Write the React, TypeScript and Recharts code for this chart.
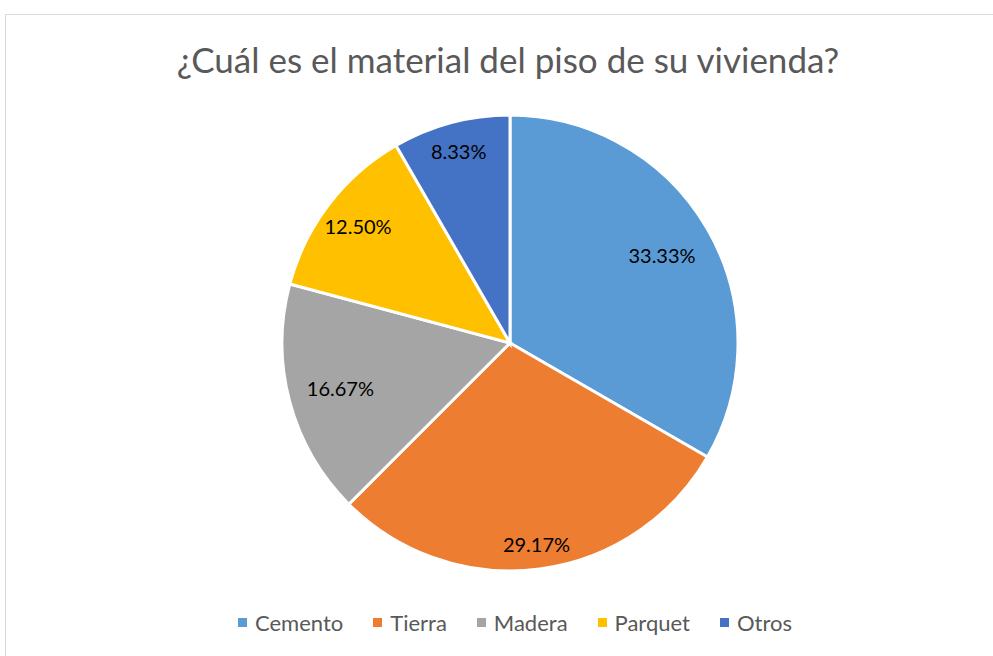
import { PieChart, Pie, Cell, Legend } from "recharts";

const categories = ["Cemento", "Tierra", "Madera", "Parquet", "Otros"];
const counts = [8, 7, 4, 3, 2];
const colors = ["#5b9bd5", "#ed7d31", "#a5a5a5", "#ffc000", "#4472c4"];

const data = categories.map((name, i) => ({ name, value: counts[i] }));
const total = counts.reduce((a, b) => a + b, 0);

// label distance from centre, as a share of the radius (Excel "best fit")
const labelRadius = [0.77, 0.89, 0.77, 0.84, 0.87];

const FONT = "Lato, 'Open Sans', sans-serif";
const RAD = Math.PI / 180;

// eslint-disable-next-line @typescript-eslint/no-explicit-any
function SliceLabel(props: any) {
  const { cx, cy, midAngle, outerRadius, value, index } = props;
  const r = outerRadius * labelRadius[index];
  const x = cx + r * Math.cos(-midAngle * RAD);
  const y = cy + r * Math.sin(-midAngle * RAD);
  return (
    <text
      x={x}
      y={y}
      textAnchor="middle"
      dominantBaseline="central"
      fontSize={20}
      fontFamily={FONT}
      fill="#000"
    >
      {((value / total) * 100).toFixed(2)}%
    </text>
  );
}

function LegendRow() {
  return (
    <div
      style={{
        display: "flex",
        justifyContent: "center",
        gap: 30,
        fontFamily: FONT,
        fontSize: 22,
        color: "#595959",
      }}
    >
      {categories.map((c, i) => (
        <div key={c} style={{ display: "flex", alignItems: "center" }}>
          <span
            style={{
              width: 9,
              height: 9,
              background: colors[i],
              display: "inline-block",
              marginRight: 8,
            }}
          />
          {c}
        </div>
      ))}
    </div>
  );
}

export default function App() {
  return (
    <div
      style={{
        position: "fixed",
        left: 0,
        top: 0,
        width: 993,
        height: 656,
        background: "#fff",
        overflow: "hidden",
      }}
    >
      <div
        style={{
          position: "absolute",
          left: 5,
          top: 14,
          width: 1010,
          height: 700,
          border: "1px solid #d9d9d9",
        }}
      />
      <div
        style={{
          position: "absolute",
          left: 0,
          top: 38,
          width: 1016,
          textAlign: "center",
          fontFamily: FONT,
          fontSize: 35,
          color: "#595959",
        }}
      >
        ¿Cuál es el material del piso de su vivienda?
      </div>
      <div style={{ position: "absolute", left: 0, top: 0 }}>
        <PieChart width={993} height={656} margin={{ top: 0, right: 0, bottom: 0, left: 0 }}>
          <Pie
            data={data}
            dataKey="value"
            nameKey="name"
            cx={510}
            cy={343}
            outerRadius={228}
            startAngle={90}
            endAngle={-270}
            stroke="#fff"
            strokeWidth={3}
            label={SliceLabel}
            labelLine={false}
            isAnimationActive={false}
          >
            {data.map((d, i) => (
              <Cell key={d.name} fill={colors[i]} />
            ))}
          </Pie>
          <Legend
            verticalAlign="bottom"
            content={() => <LegendRow />}
            wrapperStyle={{ left: 0, width: 1030, bottom: 20 }}
          />
        </PieChart>
      </div>
    </div>
  );
}
